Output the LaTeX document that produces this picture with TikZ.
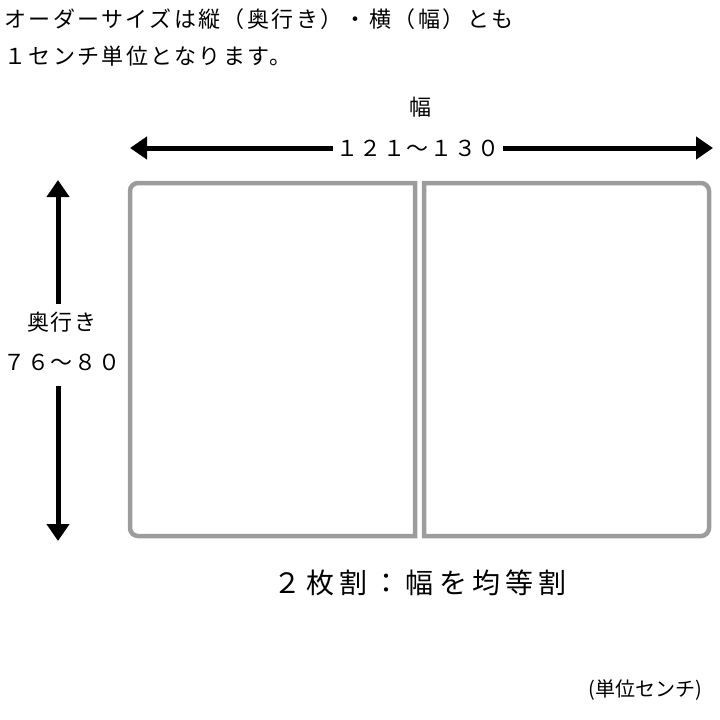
\documentclass[tikz,border=0pt]{standalone}
\usepackage{fontspec}
\newfontfamily\jp{Noto Sans CJK JP}
\usetikzlibrary{arrows.meta,positioning}
\definecolor{panelgray}{HTML}{9C9C9C}

\begin{document}
\begin{tikzpicture}[x=1pt, y=-1pt,
    note/.style={anchor=west, inner sep=0pt,
      font=\jp\fontsize{22}{26}\selectfont\addfontfeature{LetterSpace=11}},
    dimlabel/.style={inner sep=3pt,
      font=\jp\fontsize{22}{26}\selectfont\addfontfeature{LetterSpace=7}},
    dimarrow/.style={line width=5pt, -{Triangle[length=17pt,width=22pt]}},
    panel/.style={draw=panelgray, line width=4.5pt},
    caption/.style={font=\jp\fontsize{28}{32}\selectfont\addfontfeature{LetterSpace=18}},
    unit/.style={font=\jp\fontsize{20}{24}\selectfont}]
  \useasboundingbox (0,0) rectangle (720,720);

  % Notes
  \node[note] (note1) at (4,19) {オーダーサイズは縦（奥行き）・横（幅）とも};
  \node[note] (note2) at (4,56) {１センチ単位となります。};

  % Panels
  \draw[panel] (415,183) [rounded corners=8pt] -- (130,183) -- (130,536)
    [sharp corners] -- (415,536) -- cycle;
  \draw[panel] (424,183) [rounded corners=8pt] -- (709,183) -- (709,536)
    [sharp corners] -- (424,536) -- cycle;

  % Width
  \node[dimlabel] (wname) at (420,107) {幅};
  \node[dimlabel] (wnum) at (418,148) {１２１～１３０};
  \coordinate (wleft) at (130,148);
  \coordinate (wright) at (713,148);

  % Depth
  \node[dimlabel] (dname) at (62,322) {奥行き};
  \node[dimlabel] (dnum) at (62,362) {７６～８０};
  \coordinate (dtop) at (58,180);
  \coordinate (dbottom) at (58,541);

  % Captions
  \node[caption] (split) at (420,583) {２枚割：幅を均等割};
  \node[unit] (units) at (645,690) {(単位センチ)};

  % Arrows
  \draw[dimarrow] (wnum.west) -- (wleft);
  \draw[dimarrow] (wnum.east) -- (wright);
  \draw[dimarrow] ([yshift=5pt]dname.north -| dtop) -- (dtop);
  \draw[dimarrow] ([yshift=-12pt]dnum.south -| dbottom) -- (dbottom);
\end{tikzpicture}
\end{document}
